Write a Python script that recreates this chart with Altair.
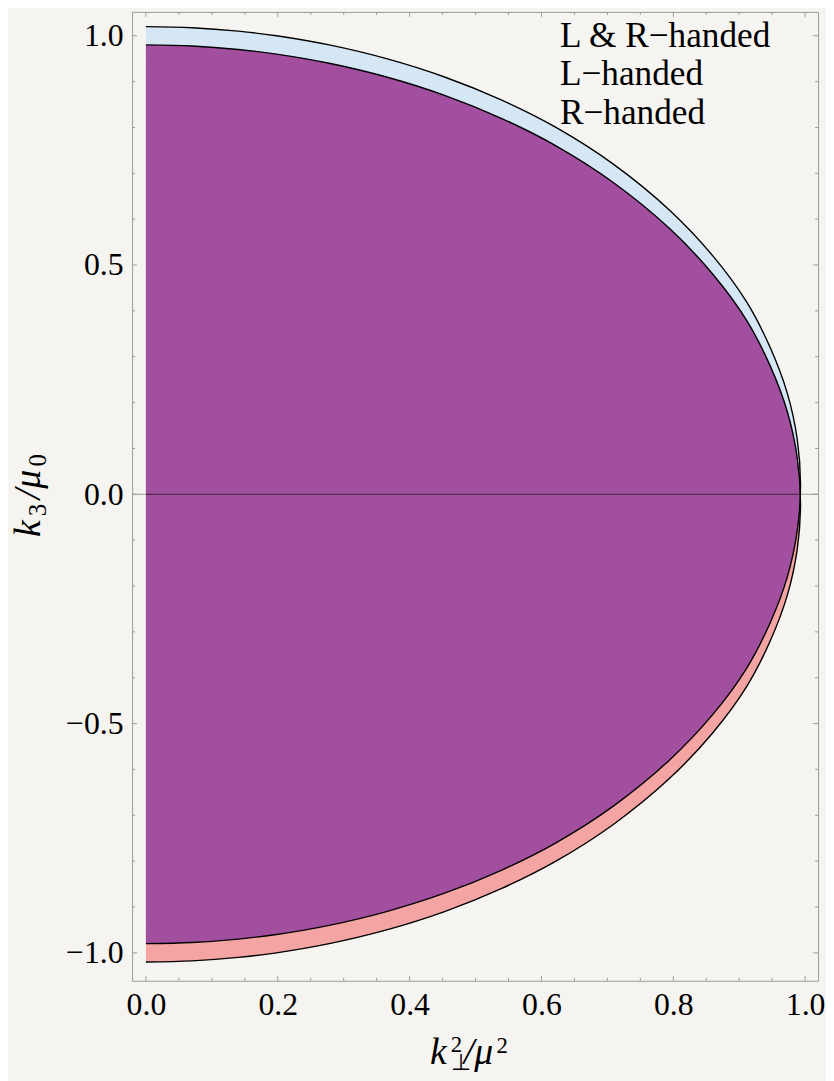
import altair as alt
import pandas as pd

# ---- data ----
# L-handed Fermi surface boundary (k3/mu0 vs k_perp^2/mu^2)
k3_L = [1.02, 1.0175, 1.01, 1.00, 0.98, 0.95, 0.91, 0.86, 0.80, 0.72, 0.62, 0.52, 0.42,
        0.32, 0.22, 0.12, 0.02, -0.08, -0.18, -0.28, -0.38, -0.48, -0.58, -0.68, -0.76,
        -0.82, -0.87, -0.91, -0.94, -0.96, -0.97, -0.9775, -0.98]
kp_L = [0.0, 0.070, 0.140, 0.198, 0.278, 0.365, 0.453, 0.539, 0.622, 0.709, 0.794, 0.860,
        0.911, 0.947, 0.973, 0.988, 0.993, 0.988, 0.973, 0.947, 0.911, 0.860, 0.794, 0.709,
        0.622, 0.539, 0.453, 0.365, 0.278, 0.198, 0.140, 0.070, 0.0]
# R-handed boundary
k3_R = [0.98, 0.9775, 0.97, 0.96, 0.94, 0.91, 0.87, 0.82, 0.76, 0.68, 0.58, 0.48, 0.38,
        0.28, 0.18, 0.08, -0.02, -0.12, -0.22, -0.32, -0.42, -0.52, -0.62, -0.72, -0.80,
        -0.86, -0.91, -0.95, -0.98, -1.00, -1.01, -1.0175, -1.02]
kp_R = [0.0, 0.070, 0.140, 0.198, 0.278, 0.365, 0.453, 0.539, 0.622, 0.709, 0.794, 0.860,
        0.911, 0.947, 0.973, 0.988, 0.993, 0.988, 0.973, 0.947, 0.911, 0.860, 0.794, 0.709,
        0.622, 0.539, 0.453, 0.365, 0.278, 0.198, 0.140, 0.070, 0.0]
# overlap region (L & R)
k3_LR = [0.98, 0.9775, 0.97, 0.96, 0.94, 0.91, 0.87, 0.82, 0.76, 0.68, 0.58, 0.48, 0.38,
         0.28, 0.18, 0.08, 0.0, -0.08, -0.18, -0.28, -0.38, -0.48, -0.58, -0.68, -0.76,
         -0.82, -0.87, -0.91, -0.94, -0.96, -0.97, -0.9775, -0.98]
kp_LR = [0.0, 0.070, 0.140, 0.198, 0.278, 0.365, 0.453, 0.539, 0.622, 0.709, 0.794, 0.860,
         0.911, 0.947, 0.973, 0.988, 0.992, 0.988, 0.973, 0.947, 0.911, 0.860, 0.794, 0.709,
         0.622, 0.539, 0.453, 0.365, 0.278, 0.198, 0.140, 0.070, 0.0]

x_major = [0.0, 0.2, 0.4, 0.6, 0.8, 1.0]
x_minor = [0.05, 0.1, 0.15, 0.25, 0.3, 0.35, 0.45, 0.5, 0.55, 0.65, 0.7, 0.75, 0.85, 0.9, 0.95]
y_major = [-1.0, -0.5, 0.0, 0.5, 1.0]
y_minor = [-0.9, -0.8, -0.7, -0.6, -0.4, -0.3, -0.2, -0.1, 0.1, 0.2, 0.3, 0.4, 0.6, 0.7, 0.8, 0.9]
legend_labels = ["L & R\u2212handed", "L\u2212handed", "R\u2212handed"]
zero_inside = [0.0, 0.99]

# ---- layout / style ----
W, H = 691, 976
XDOM = [-0.021, 1.0196]
YDOM = [-1.061, 1.052]
FONT = "Liberation Serif"
BLUE = "#d5e7f5"
PINK = "#f4a4a2"
PURPLE = "#a34fa0"
GRAY = "#9a9a9a"
BG = "#f6f4f1"

xs = alt.Scale(domain=XDOM, nice=False, zero=False)
ys = alt.Scale(domain=YDOM, nice=False, zero=False)
AXX = alt.Axis(values=x_major, format=".1f", labelFont=FONT, labelFontSize=32, labelColor="black",
               ticks=False, tickSize=0, domain=False, grid=False, labelPadding=34,
               labelBaseline="alphabetic", title=None, labelFlush=False, labelOverlap=False)
AXY = alt.Axis(values=y_major, format=".1f", labelFont=FONT, labelFontSize=32, labelColor="black",
               ticks=False, tickSize=0, domain=False, grid=False, labelPadding=9,
               labelAlign="right", labelBaseline="middle", title=None, labelFlush=False,
               labelOverlap=False)
X = alt.X("x:Q", scale=xs, axis=AXX)
Y = alt.Y("y:Q", scale=ys, axis=AXY)


def curve_df(k3, kp):
    return pd.DataFrame({"y": k3, "x": kp, "i": list(range(len(k3)))})


dfL = curve_df(k3_L, kp_L)
dfR = curve_df(k3_R, kp_R)
dfLR = curve_df(k3_LR, kp_LR)


def area(df, color):
    return alt.Chart(df).mark_area(orient="horizontal", interpolate="catmull-rom",
                                   color=color, opacity=1).encode(
        y=Y, x=X, x2=alt.datum(0))


def outline(df):
    return alt.Chart(df).mark_line(interpolate="catmull-rom", color="black",
                                   strokeWidth=1.4).encode(x=X, y=Y, order="i:Q")


def txt(s, x, y, size, italic=False, angle=0):
    return alt.Chart(pd.DataFrame({"t": [s]})).mark_text(
        font=FONT, fontSize=size, fontStyle="italic" if italic else "normal",
        align="left", baseline="alphabetic", angle=angle, color="black").encode(
        text="t:N", x=alt.value(x), y=alt.value(y))


layers = []
# zero axis line (gray, full width)
layers.append(alt.Chart(pd.DataFrame({"y": [0.0]})).mark_rule(color=GRAY, strokeWidth=1).encode(
    y=Y, x=alt.value(0), x2=alt.value(W)))
layers += [area(dfL, BLUE), area(dfR, PINK), area(dfLR, PURPLE)]
# zero line inside the region
layers.append(alt.Chart(pd.DataFrame({"x": [zero_inside[0]], "x2": [zero_inside[1]], "y": [0.0]}))
              .mark_rule(color="#3a2838", strokeWidth=1).encode(x=X, x2="x2:Q", y=Y))
layers += [outline(dfL), outline(dfR)]

# frame ticks (inward)
for vals, ln in ((x_major, 5), (x_minor, 3)):
    d = pd.DataFrame({"x": vals})
    layers.append(alt.Chart(d).mark_rule(color=GRAY).encode(x=X, y=alt.value(H), y2=alt.value(H - ln)))
    layers.append(alt.Chart(d).mark_rule(color=GRAY).encode(x=X, y=alt.value(0), y2=alt.value(ln)))
for vals, ln in ((y_major, 5), (y_minor, 3)):
    d = pd.DataFrame({"y": vals})
    layers.append(alt.Chart(d).mark_rule(color=GRAY).encode(y=Y, x=alt.value(0), x2=alt.value(ln)))
    layers.append(alt.Chart(d).mark_rule(color=GRAY).encode(y=Y, x=alt.value(W), x2=alt.value(W - ln)))

# legend texts
for j, lab in enumerate(legend_labels):
    layers.append(txt(lab, 431, 35 + 39 * j, 35.5))

# x axis title: k^2_perp / mu^2
layers.append(txt("k", 300, 1060, 38, italic=True))
layers.append(txt("2", 321, 1048, 23))
layers.append(txt("\u22a5", 321, 1066, 23))
layers.append(txt("/\u03bc", 334, 1060, 38, italic=True))
layers.append(txt("2", 367, 1049, 23))

# y axis title: k_3 / mu_0 (rotated)
layers.append(txt("k", -93, 529, 38, italic=True, angle=270))
layers.append(txt("3", -87, 508, 25, angle=270))
layers.append(txt("/\u03bc", -93, 491, 38, italic=True, angle=270))
layers.append(txt("0", -87, 458, 25, angle=270))

chart = alt.layer(*layers).properties(
    width=W, height=H, background=BG,
    autosize=alt.AutoSizeParams(type="none"),
    padding={"left": 125, "top": 0, "right": 8, "bottom": 97},
).configure_view(stroke=GRAY, strokeWidth=1, fill=BG)

chart.save("out.html", embed_options={"renderer": "svg", "actions": False})
